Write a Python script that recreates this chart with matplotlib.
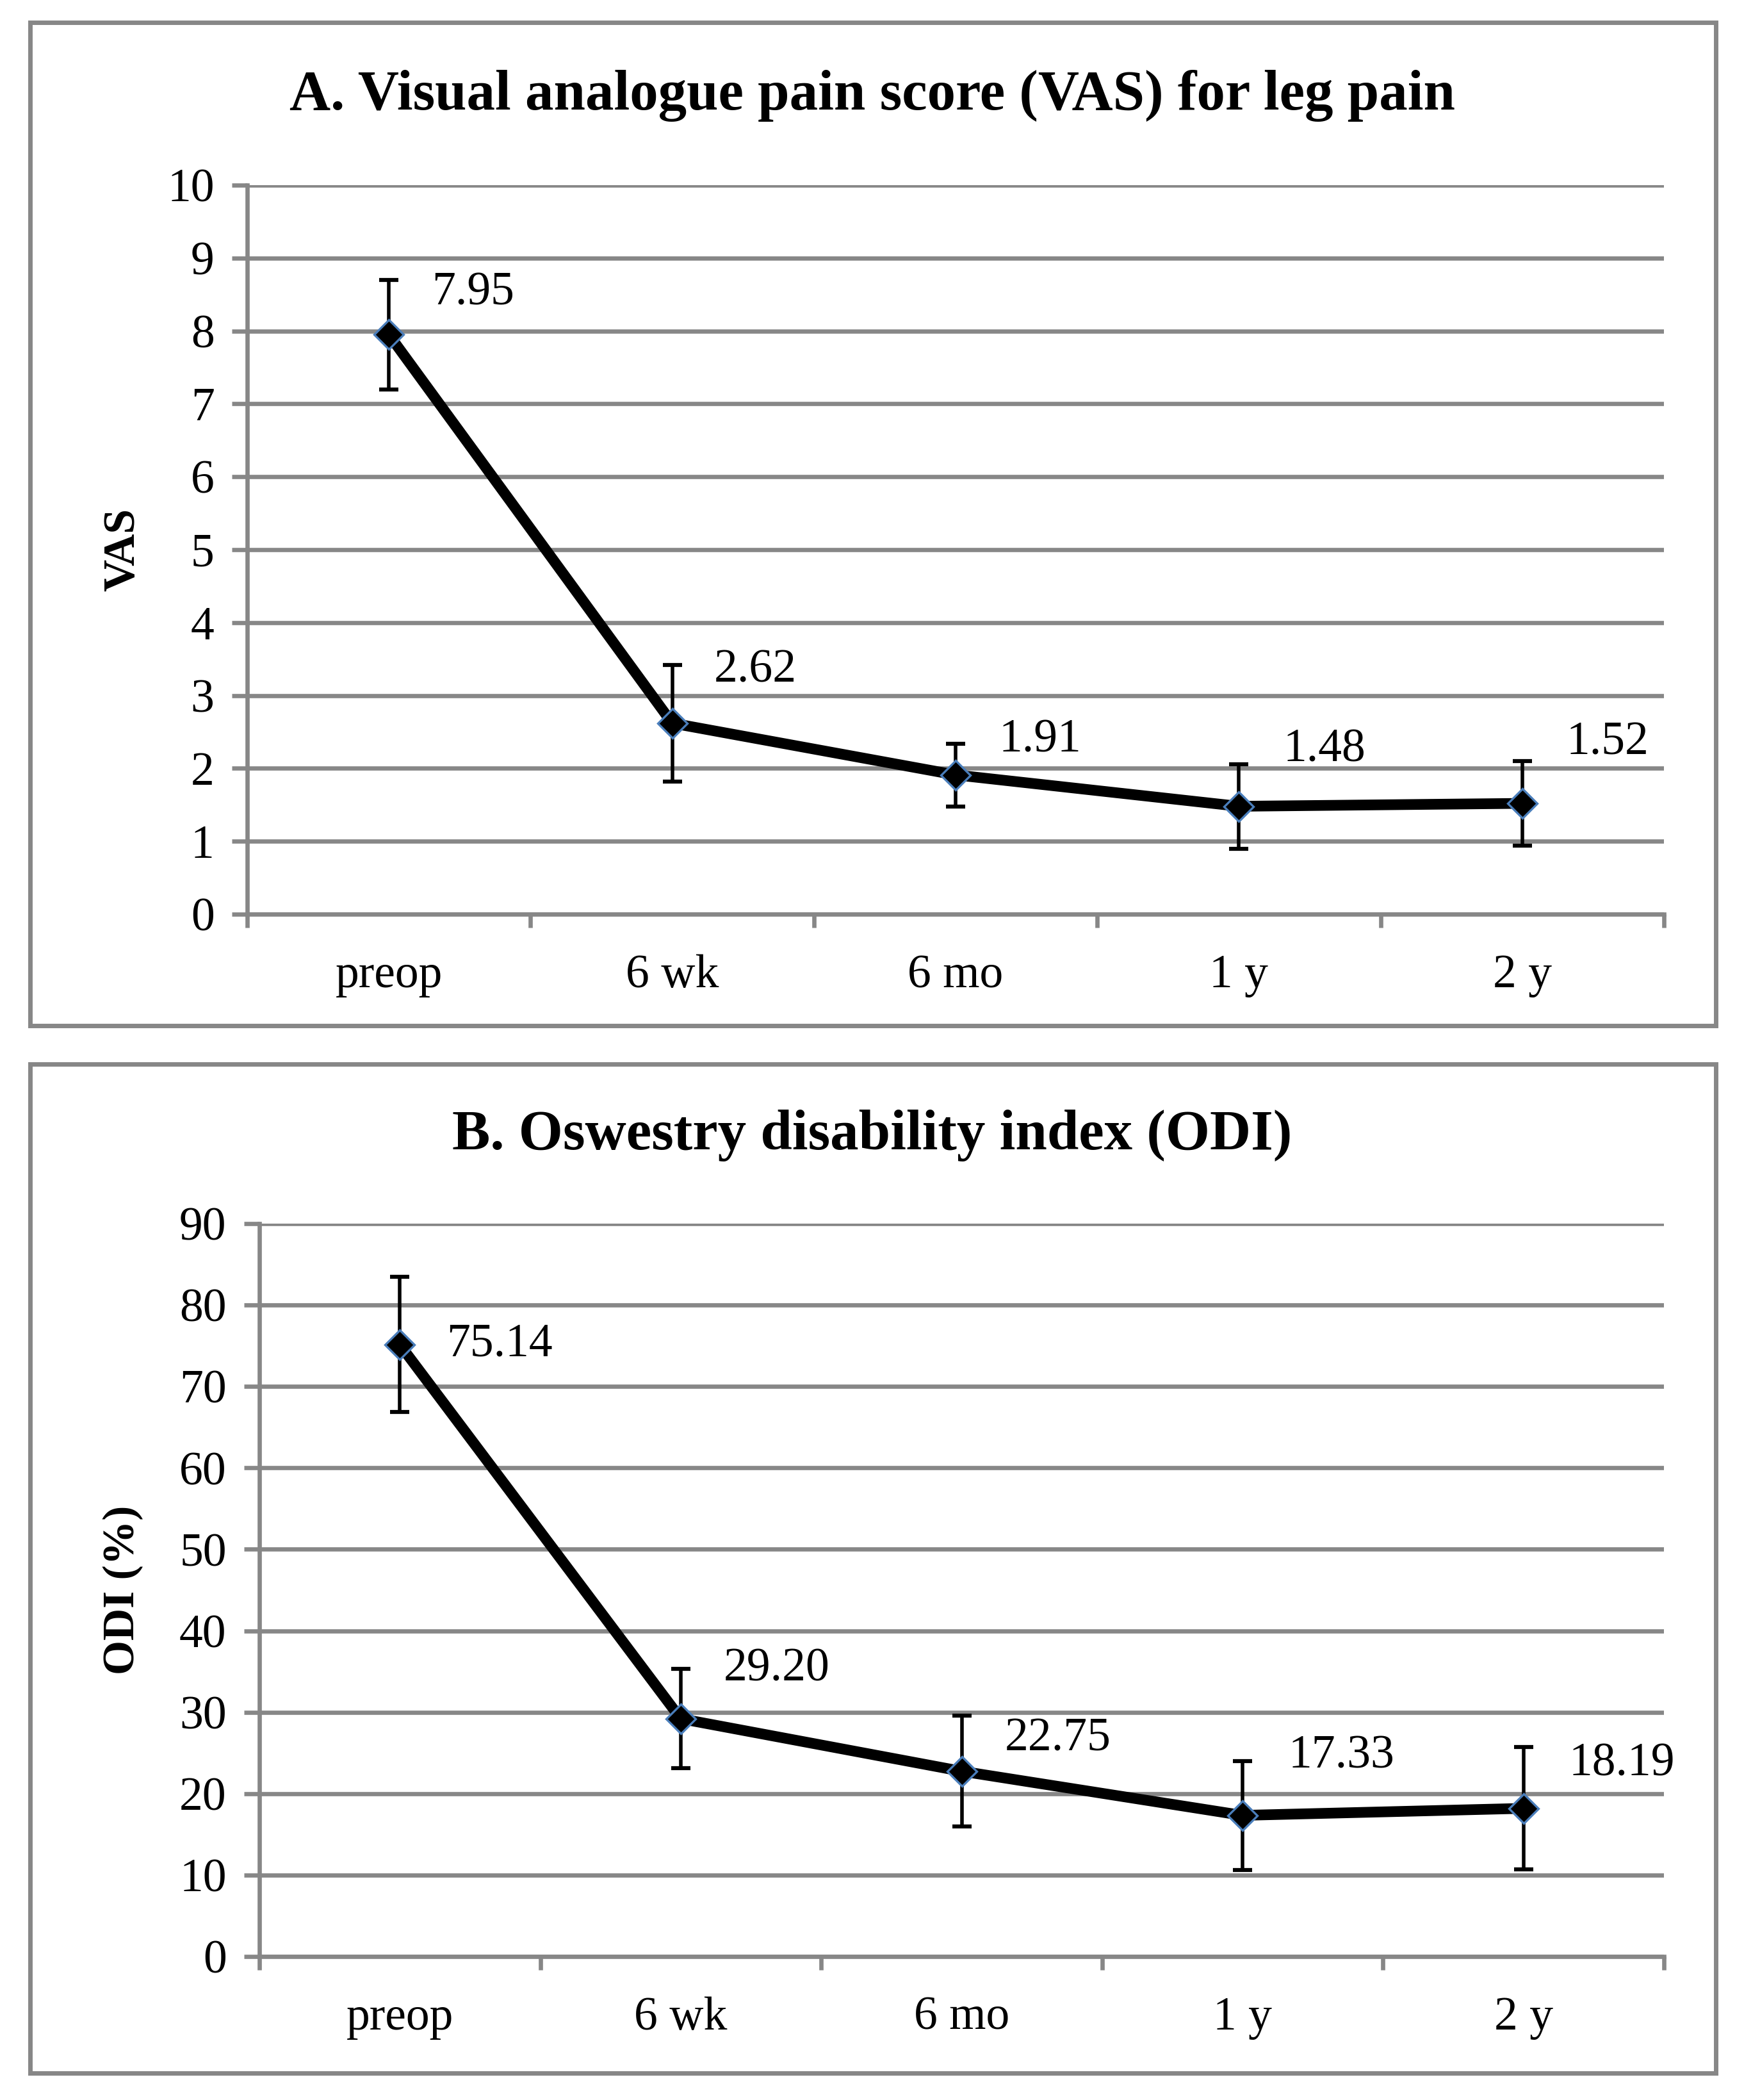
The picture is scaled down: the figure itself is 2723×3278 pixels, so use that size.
import matplotlib
matplotlib.use('Agg')
import matplotlib.pyplot as plt
from matplotlib.patches import Rectangle
from matplotlib.ticker import MultipleLocator, FixedLocator, NullFormatter
import numpy as np

# Dados
categories = ['preop', '6 wk', '6 mo', '1 y', '2 y']
vas_mean = [7.95, 2.62, 1.91, 1.48, 1.52]
vas_err = [0.75, 0.80, 0.43, 0.58, 0.58]
odi_mean = [75.14, 29.20, 22.75, 17.33, 18.19]
odi_err = [8.3, 6.1, 6.8, 6.7, 7.5]
vas_labels = ['7.95', '2.62', '1.91', '1.48', '1.52']
odi_labels = ['75.14', '29.20', '22.75', '17.33', '18.19']

# deslocamento dos rótulos (pixels)
vas_offsets = [(67, 65), (65, 82), (67, 54), (69, 88), (69, 94)]
odi_offsets = [(73, 0), (67, 77), (67, 50), (71, 92), (71, 69)]

W, H, DPI = 2723, 3278, 100
GRAY = '#878787'
plt.rcParams['font.family'] = ['Liberation Serif', 'DejaVu Serif']

fig = plt.figure(figsize=(W / DPI, H / DPI), dpi=DPI)

# molduras dos painéis
for (x0, y0, x1, y1) in [(47, 35, 2679, 1601), (47, 1661, 2679, 3236)]:
    fig.add_artist(Rectangle((x0 / W, 1 - y1 / H), (x1 - x0) / W, (y1 - y0) / H,
                             transform=fig.transFigure, fill=False,
                             edgecolor=GRAY, linewidth=5))


def painel(ax, mean, err, labels, offsets, ymax, ystep, title, ylabel, title_y, label_x):
    x = np.arange(len(categories))
    ax.set_xlim(-0.5, len(categories) - 0.5)
    ax.set_ylim(0, ymax)
    ax.yaxis.set_major_locator(MultipleLocator(ystep))
    ax.grid(axis='y', color=GRAY, linewidth=4.8)
    ax.set_axisbelow(True)
    for s in ['top', 'right']:
        ax.spines[s].set_visible(False)
    for s in ['left', 'bottom']:
        ax.spines[s].set_color(GRAY)
        ax.spines[s].set_linewidth(4.8)
    ax.set_xticks(x)
    ax.set_xticklabels(categories)
    ax.xaxis.set_minor_locator(FixedLocator(np.arange(-0.5, len(categories), 1)))
    ax.xaxis.set_minor_formatter(NullFormatter())
    ax.tick_params(axis='x', which='major', length=0, pad=45, labelsize=53)
    ax.tick_params(axis='x', which='minor', length=15, width=4.8, color=GRAY)
    ax.tick_params(axis='y', length=17, width=4.8, color=GRAY, pad=20, labelsize=53)

    ax.errorbar(x, mean, yerr=err, fmt='none', ecolor='black', elinewidth=4,
                capsize=10.5, capthick=4.5, zorder=3)
    ax.plot(x, mean, color='black', linewidth=12, marker='D', markersize=23,
            markerfacecolor='black', markeredgecolor='#4A7EBB', markeredgewidth=2.4,
            zorder=4, solid_joinstyle='round')
    for xi, yi, lab, off in zip(x, mean, labels, offsets):
        ax.annotate(lab, (xi, yi), xytext=off, textcoords='offset pixels',
                    ha='left', va='center', fontsize=53, zorder=5)

    fig.text(0.5, 1 - title_y / H, title, ha='center', va='center',
             fontsize=64, fontweight='bold')
    pos = ax.get_position()
    fig.text(label_x / W, (pos.y0 + pos.y1) / 2, ylabel, rotation=90,
             ha='center', va='center', fontsize=50, fontweight='bold')


# Painel A
ax1 = fig.add_axes([386 / W, 1 - 1427 / H, (2598 - 386) / W, (1427 - 289) / H])
painel(ax1, vas_mean, vas_err, vas_labels, vas_offsets, 10, 1,
       'A. Visual analogue pain score (VAS) for leg pain', 'VAS', 150, 192)

# Painel B
ax2 = fig.add_axes([405 / W, 1 - 3054 / H, (2598 - 405) / W, (3054 - 1910) / H])
painel(ax2, odi_mean, odi_err, odi_labels, odi_offsets, 90, 10,
       'B. Oswestry disability index (ODI)', 'ODI (%)', 1772, 192)

fig.savefig('out.png', dpi=DPI)
